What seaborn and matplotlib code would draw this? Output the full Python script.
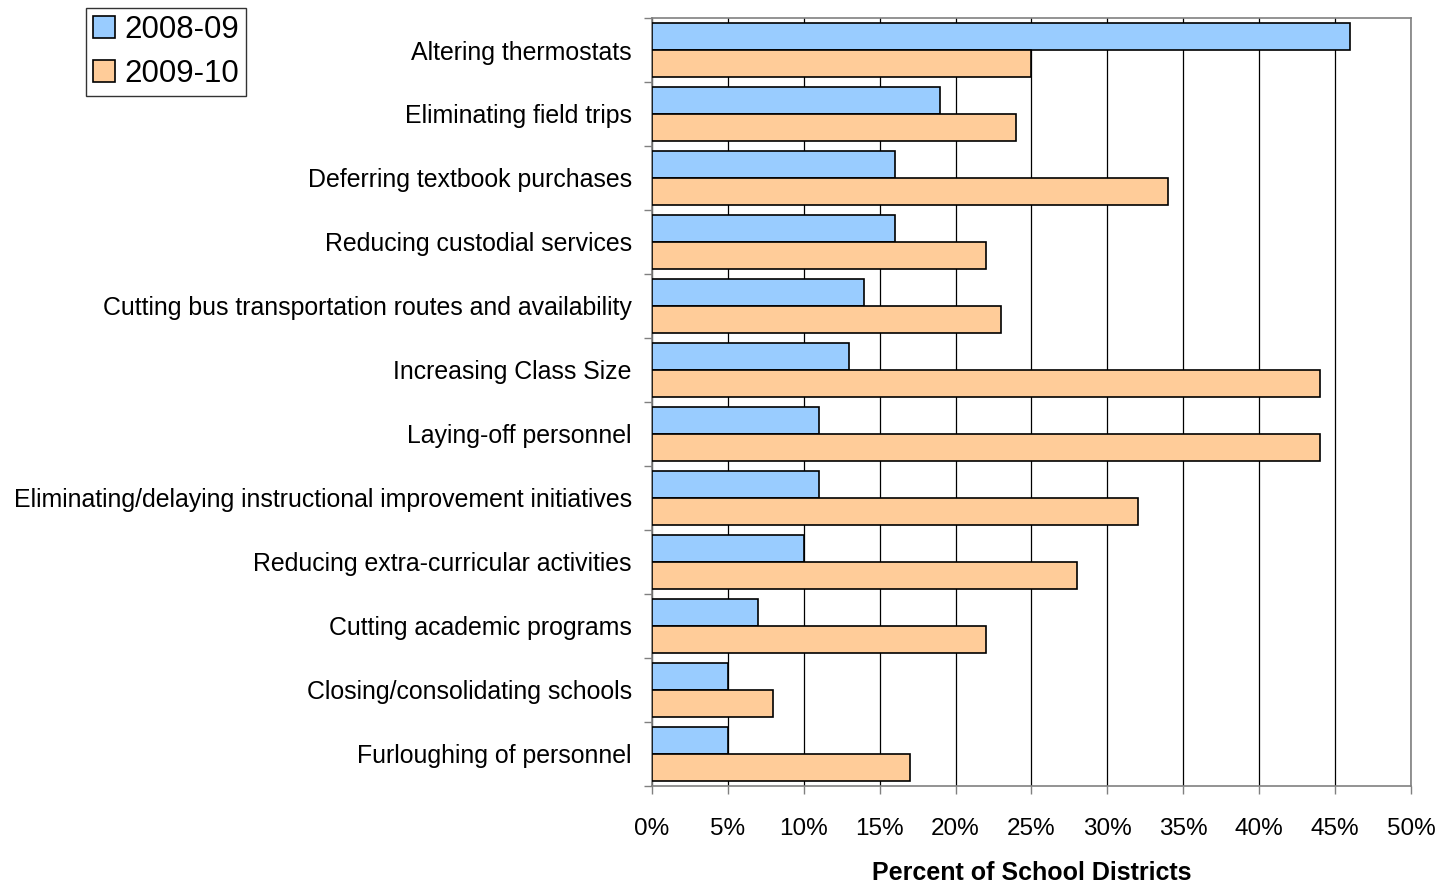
import numpy as np
import pandas as pd
import matplotlib
matplotlib.use("Agg")
import matplotlib.pyplot as plt
import seaborn as sns
from matplotlib.ticker import FixedLocator, PercentFormatter

categories = [
    "Altering thermostats",
    "Eliminating field trips",
    "Deferring textbook purchases",
    "Reducing custodial services",
    "Cutting bus transportation routes and availability",
    "Increasing Class Size",
    "Laying-off personnel",
    "Eliminating/delaying instructional improvement initiatives",
    "Reducing extra-curricular activities",
    "Cutting academic programs",
    "Closing/consolidating schools",
    "Furloughing of personnel",
]
vals_2008 = [46, 19, 16, 16, 14, 13, 11, 11, 10, 7, 5, 5]
vals_2009 = [25, 24, 34, 22, 23, 44, 44, 32, 28, 22, 8, 17]
series = ["2008-09", "2009-10"]
x_ticks = [0, 5, 10, 15, 20, 25, 30, 35, 40, 45, 50]

df = pd.DataFrame({
    "cat": categories * 2,
    "val": vals_2008 + vals_2009,
    "year": [series[0]] * len(categories) + [series[1]] * len(categories),
})

sns.set_style("white")
plt.rcParams["font.family"] = ["Liberation Sans", "DejaVu Sans"]
plt.rcParams["text.color"] = "black"
plt.rcParams["xtick.color"] = "black"
plt.rcParams["ytick.color"] = "black"
plt.rcParams["axes.labelcolor"] = "black"

fig = plt.figure(figsize=(14.43, 8.83), dpi=100)
ax = fig.add_axes([0.4518, 0.110, 0.9778 - 0.4518, 0.9796 - 0.110])

sns.barplot(data=df, y="cat", x="val", hue="year", orient="h",
            palette=["#99CCFF", "#FFCC99"], saturation=1, width=0.84, gap=0,
            edgecolor="black", linewidth=1.2, ax=ax, zorder=3)

ax.set_xlim(0, 50)
ax.set_ylim(len(categories) - 0.5, -0.5)
ax.xaxis.set_major_locator(FixedLocator(x_ticks))
ax.xaxis.set_major_formatter(PercentFormatter(decimals=0))
ax.grid(axis="x", color="black", linewidth=0.9, zorder=0)
ax.grid(axis="y", visible=False)
ax.set_axisbelow(True)

for s in ax.spines.values():
    s.set_visible(True)
    s.set_color("#808080")
    s.set_linewidth(1.2)

ax.tick_params(axis="x", which="major", bottom=True, length=6, width=1,
               color="#808080", labelsize=17.5, pad=17)
ax.tick_params(axis="y", which="major", left=False, labelsize=17.9, pad=11)
ax.set_yticks(np.arange(len(categories) + 1) - 0.5, minor=True)
ax.tick_params(axis="y", which="minor", left=True, length=6, width=1, color="#808080")

ax.set_ylabel("")
ax.set_xlabel("Percent of School Districts", fontsize=18, fontweight="bold", labelpad=15)

handles, labels = ax.get_legend_handles_labels()
ax.legend_.remove()
leg = fig.legend(handles, labels, loc="upper left", bbox_to_anchor=(86 / 1443, 1 - 8 / 883),
                 fontsize=22.5, frameon=True, fancybox=False, edgecolor="black",
                 handlelength=0.7, handleheight=0.7, handletextpad=0.3,
                 borderpad=0.22, labelspacing=0.45, borderaxespad=0)
leg.get_frame().set_linewidth(1.0)

fig.savefig("out.png", dpi=100)
